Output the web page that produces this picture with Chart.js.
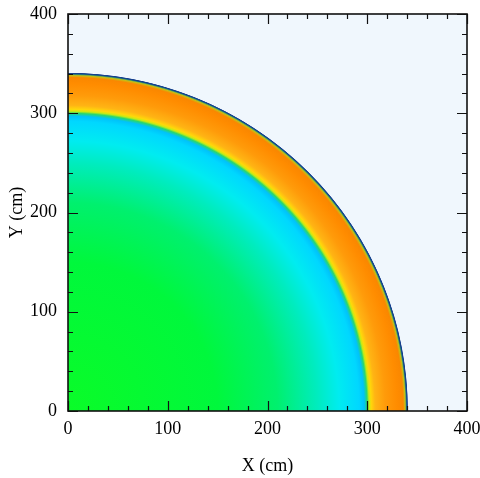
<!DOCTYPE html>
<html>
<head>
<meta charset="utf-8">
<script src="https://cdn.jsdelivr.net/npm/chart.js@4"></script>
<style>
  html, body { margin: 0; padding: 0; background: #fff; }
  #wrap { width: 480px; height: 478px; }
</style>
</head>
<body>
<div id="wrap"><canvas id="c" width="480" height="478"></canvas></div>
<script>
// ---------- data ----------
// radial profile from the origin, radius in cm, colour at that radius
const radii = [0, 150, 210, 250, 272, 292, 297, 300, 302, 304, 308, 318, 330, 336, 338, 339.3, 340.3, 341];
const colours = [
  "rgb(10,252,40)", "rgb(0,248,60)", "rgb(0,240,110)", "rgb(0,236,190)",
  "rgb(0,236,240)", "rgb(0,215,255)", "rgb(0,195,250)", "rgb(40,215,110)",
  "rgb(200,235,20)", "rgb(255,215,10)", "rgb(255,180,20)", "rgb(255,155,10)",
  "rgb(255,140,0)", "rgb(250,135,0)", "rgb(200,190,20)", "rgb(40,150,120)",
  "rgb(25,70,150)", "rgb(240,247,253)",
];
const majorTicks = [0, 100, 200, 300, 400];
const minorTicks = [20, 40, 60, 80, 120, 140, 160, 180, 220, 240, 260, 280, 320, 340, 360, 380];

const BG = "rgb(240,247,253)";
const FONT = "'Liberation Serif', 'DejaVu Serif', serif";

// ---------- plugins ----------
const field = {
  id: "field",
  beforeDatasetsDraw(chart) {
    const { ctx, chartArea: a, scales: { x, y } } = chart;
    const cx = x.getPixelForValue(0);
    const cy = y.getPixelForValue(0);
    const rMax = radii[radii.length - 1];
    const rx = x.getPixelForValue(rMax) - cx;
    const ry = cy - y.getPixelForValue(rMax);
    ctx.save();
    ctx.beginPath();
    ctx.rect(a.left, a.top, a.right - a.left, a.bottom - a.top);
    ctx.clip();
    ctx.fillStyle = BG;
    ctx.fillRect(a.left, a.top, a.right - a.left, a.bottom - a.top);
    ctx.translate(cx, cy);
    ctx.scale(1, ry / rx);
    const g = ctx.createRadialGradient(0, 0, 0, 0, 0, rx);
    radii.forEach((r, i) => g.addColorStop(r / rMax, colours[i]));
    ctx.fillStyle = g;
    ctx.beginPath();
    ctx.moveTo(0, 0);
    ctx.arc(0, 0, rx, 0, 2 * Math.PI);
    ctx.fill();
    // dark rim of the outer edge
    const rim = x.getPixelForValue(340) - cx;
    ctx.strokeStyle = "rgba(20,60,140,0.85)";
    ctx.lineWidth = 1.3;
    ctx.beginPath();
    ctx.arc(0, 0, rim, -Math.PI / 2, 0);
    ctx.stroke();
    ctx.restore();
  },
  afterDraw(chart) {
    const { ctx, chartArea: a, scales: { x, y } } = chart;
    ctx.save();
    ctx.strokeStyle = "#111";
    ctx.lineWidth = 1.6;
    ctx.strokeRect(a.left, a.top, a.right - a.left, a.bottom - a.top);
    ctx.lineWidth = 1.2;
    const mark = (vals, len) => {
      ctx.beginPath();
      for (const v of vals) {
        const px = Math.round(x.getPixelForValue(v)) + 0.5;
        const py = Math.round(y.getPixelForValue(v)) + 0.5;
        ctx.moveTo(px, a.bottom); ctx.lineTo(px, a.bottom - len);
        ctx.moveTo(px, a.top); ctx.lineTo(px, a.top + len);
        ctx.moveTo(a.left, py); ctx.lineTo(a.left + len, py);
        ctx.moveTo(a.right, py); ctx.lineTo(a.right - len, py);
      }
      ctx.stroke();
    };
    mark(majorTicks, 10);
    mark(minorTicks, 5);
    ctx.restore();
  },
};

// ---------- chart ----------
const tickFont = { family: FONT, size: 18 };

new Chart(document.getElementById("c"), {
  type: "scatter",
  data: { datasets: [{ data: [], pointRadius: 0 }] },
  options: {
    responsive: false,
    animation: false,
    events: [],
    layout: { padding: { left: 0, right: 13, top: 14, bottom: 0 } },
    plugins: { legend: { display: false }, tooltip: { enabled: false } },
    scales: {
      x: {
        type: "linear", min: 0, max: 400,
        grid: { display: false, drawTicks: false },
        border: { display: false },
        ticks: { stepSize: 100, color: "#000", font: tickFont, padding: 7, maxRotation: 0 },
        title: { display: true, text: "X (cm)", color: "#000", font: tickFont, padding: { top: 0, bottom: 1 } },
        afterFit(s) { s.height = 67; s.paddingLeft = 0; s.paddingRight = 0; },
      },
      y: {
        type: "linear", min: 0, max: 400,
        grid: { display: false, drawTicks: false },
        border: { display: false },
        ticks: { stepSize: 100, color: "#000", font: tickFont, padding: 11 },
        title: { display: true, text: "Y (cm)", color: "#000", font: tickFont, padding: { top: 6, bottom: 0 } },
        afterFit(s) { s.width = 68; s.paddingTop = 0; s.paddingBottom = 0; },
      },
    },
  },
  plugins: [field],
});
</script>
</body>
</html>
